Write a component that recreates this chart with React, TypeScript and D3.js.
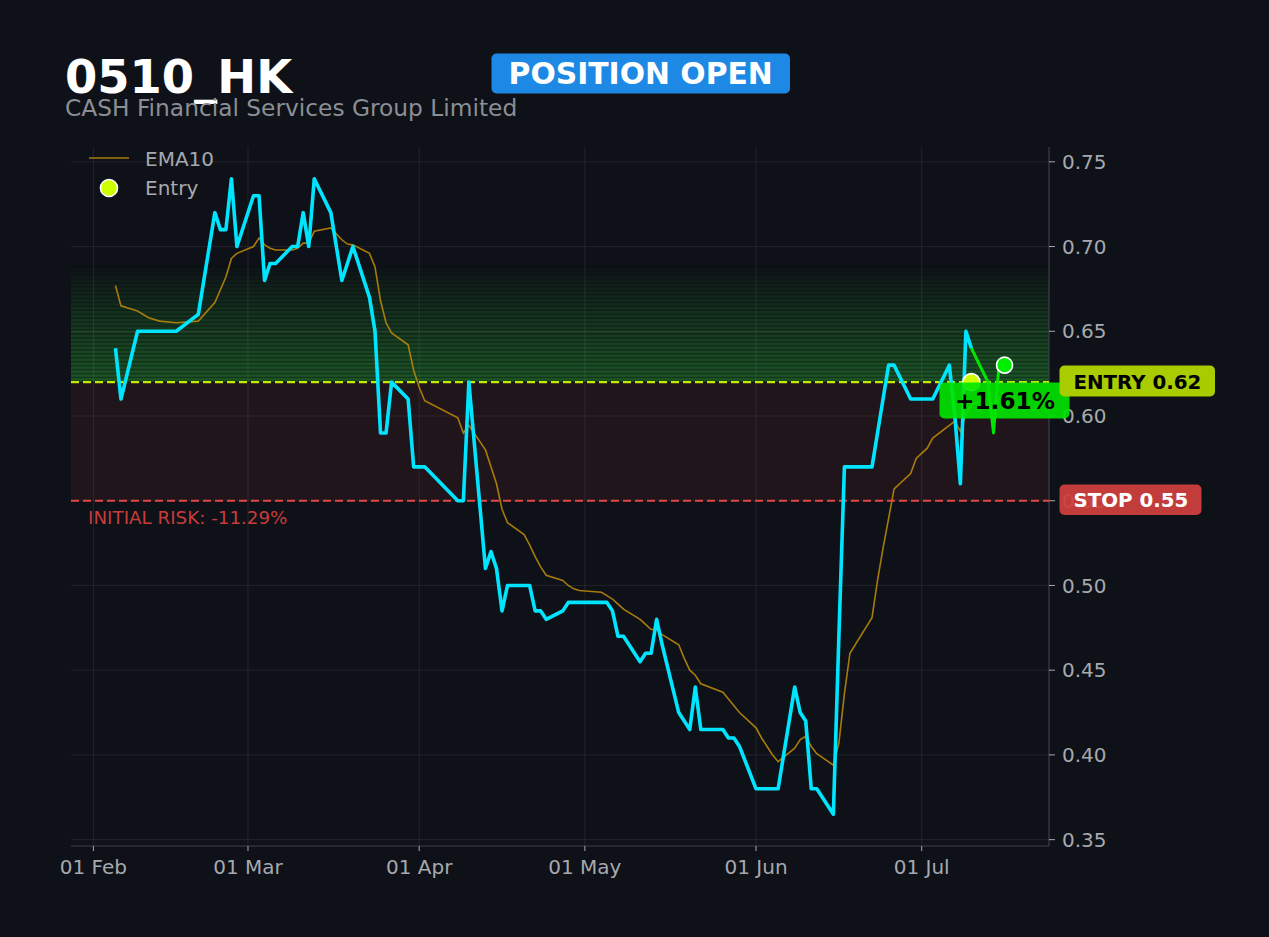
import React from "react";
import * as d3 from "d3";

// close prices (2026 trading days)
const priceDates = [
  "2026-02-05", "2026-02-06", "2026-02-09", "2026-02-10", "2026-02-11", "2026-02-12", "2026-02-13", "2026-02-16",
  "2026-02-20", "2026-02-23", "2026-02-24", "2026-02-25", "2026-02-26", "2026-02-27", "2026-03-02", "2026-03-03",
  "2026-03-04", "2026-03-05", "2026-03-06", "2026-03-09", "2026-03-10", "2026-03-11", "2026-03-12", "2026-03-13",
  "2026-03-16", "2026-03-18", "2026-03-19", "2026-03-20", "2026-03-23", "2026-03-24", "2026-03-25", "2026-03-26",
  "2026-03-27", "2026-03-30", "2026-03-31", "2026-04-01", "2026-04-02", "2026-04-08", "2026-04-09", "2026-04-10",
  "2026-04-13", "2026-04-14", "2026-04-15", "2026-04-16", "2026-04-17", "2026-04-20", "2026-04-21", "2026-04-22",
  "2026-04-23", "2026-04-24", "2026-04-27", "2026-04-28", "2026-04-29", "2026-04-30", "2026-05-04", "2026-05-05",
  "2026-05-06", "2026-05-07", "2026-05-08", "2026-05-11", "2026-05-12", "2026-05-13", "2026-05-14", "2026-05-15",
  "2026-05-18", "2026-05-19", "2026-05-20", "2026-05-21", "2026-05-22", "2026-05-26", "2026-05-27", "2026-05-28",
  "2026-05-29", "2026-06-01", "2026-06-02", "2026-06-03", "2026-06-04", "2026-06-05", "2026-06-08", "2026-06-09",
  "2026-06-10", "2026-06-11", "2026-06-12", "2026-06-15", "2026-06-16", "2026-06-17", "2026-06-18", "2026-06-22",
  "2026-06-23", "2026-06-24", "2026-06-25", "2026-06-26", "2026-06-29", "2026-06-30", "2026-07-02", "2026-07-03",
  "2026-07-06", "2026-07-07", "2026-07-08", "2026-07-09", "2026-07-10",
];
const priceValues = [
  0.64, 0.61, 0.65, 0.65, 0.65, 0.65, 0.65, 0.65,
  0.66, 0.72, 0.71, 0.71, 0.74, 0.70, 0.73, 0.73,
  0.68, 0.69, 0.69, 0.70, 0.70, 0.72, 0.70, 0.74,
  0.72, 0.68, 0.69, 0.70, 0.67, 0.65, 0.59, 0.59,
  0.62, 0.61, 0.57, 0.57, 0.57, 0.55, 0.55, 0.62,
  0.51, 0.52, 0.51, 0.485, 0.50, 0.50, 0.50, 0.485,
  0.485, 0.48, 0.485, 0.49, 0.49, 0.49, 0.49, 0.49,
  0.485, 0.47, 0.47, 0.455, 0.46, 0.46, 0.48, 0.465,
  0.425, 0.42, 0.415, 0.44, 0.415, 0.415, 0.41, 0.41,
  0.405, 0.38, 0.38, 0.38, 0.38, 0.38, 0.44, 0.425,
  0.42, 0.38, 0.38, 0.365, 0.47, 0.57, 0.57, 0.57,
  0.59, 0.61, 0.63, 0.63, 0.61, 0.61, 0.61, 0.61,
  0.63, 0.60, 0.56, 0.65, 0.64,
];

// EMA10
const emaDates = [
  "2026-02-05", "2026-02-06", "2026-02-09", "2026-02-11", "2026-02-13", "2026-02-16", "2026-02-20", "2026-02-23",
  "2026-02-25", "2026-02-26", "2026-02-27", "2026-03-02", "2026-03-03", "2026-03-04", "2026-03-05", "2026-03-06",
  "2026-03-09", "2026-03-10", "2026-03-11", "2026-03-12", "2026-03-13", "2026-03-16", "2026-03-18", "2026-03-19",
  "2026-03-20", "2026-03-23", "2026-03-24", "2026-03-25", "2026-03-26", "2026-03-27", "2026-03-30", "2026-03-31",
  "2026-04-01", "2026-04-02", "2026-04-08", "2026-04-09", "2026-04-10", "2026-04-13", "2026-04-14", "2026-04-15",
  "2026-04-16", "2026-04-17", "2026-04-20", "2026-04-21", "2026-04-22", "2026-04-23", "2026-04-24", "2026-04-27",
  "2026-04-28", "2026-04-29", "2026-04-30", "2026-05-04", "2026-05-05", "2026-05-06", "2026-05-07", "2026-05-08",
  "2026-05-11", "2026-05-12", "2026-05-13", "2026-05-14", "2026-05-15", "2026-05-18", "2026-05-19", "2026-05-20",
  "2026-05-21", "2026-05-22", "2026-05-26", "2026-05-27", "2026-05-28", "2026-05-29", "2026-06-01", "2026-06-02",
  "2026-06-03", "2026-06-04", "2026-06-05", "2026-06-08", "2026-06-09", "2026-06-10", "2026-06-11", "2026-06-12",
  "2026-06-15", "2026-06-16", "2026-06-17", "2026-06-18", "2026-06-22", "2026-06-23", "2026-06-24", "2026-06-25",
  "2026-06-26", "2026-06-29", "2026-06-30", "2026-07-02", "2026-07-03", "2026-07-06", "2026-07-07", "2026-07-08",
  "2026-07-09", "2026-07-10", "2026-07-13", "2026-07-14", "2026-07-15", "2026-07-16",
];
const emaValues = [
  0.677, 0.665, 0.662, 0.658, 0.656, 0.655, 0.656, 0.667,
  0.682, 0.693, 0.696, 0.700, 0.705, 0.701, 0.699, 0.698,
  0.698, 0.699, 0.702, 0.702, 0.709, 0.711, 0.704, 0.7015,
  0.701, 0.696, 0.688, 0.668, 0.655, 0.649, 0.642, 0.627,
  0.617, 0.609, 0.599, 0.590, 0.5945, 0.580, 0.570, 0.560,
  0.545, 0.537, 0.530, 0.524, 0.517, 0.511, 0.506, 0.503,
  0.500, 0.498, 0.497, 0.496, 0.494, 0.492, 0.489, 0.486,
  0.480, 0.477, 0.474, 0.474, 0.471, 0.465, 0.457, 0.450,
  0.447, 0.442, 0.437, 0.433, 0.429, 0.425, 0.416, 0.410,
  0.405, 0.400, 0.396, 0.404, 0.409, 0.411, 0.405, 0.4007,
  0.394, 0.407, 0.436, 0.460, 0.481, 0.503, 0.522, 0.5395,
  0.557, 0.566, 0.575, 0.581, 0.587, 0.5945, 0.597, 0.591,
  0.601, 0.607, 0.610, 0.606, 0.610, 0.613,
];

// price since entry
const positionDates = ["2026-07-10", "2026-07-13", "2026-07-14", "2026-07-15", "2026-07-16"];
const positionValues = [0.64, 0.62, 0.59, 0.63, 0.63];

const entryDate = "2026-07-10";
const entryPrice = 0.62;
const stopPrice = 0.55;
const targetPrice = 0.69;
const yTicks = [0.35, 0.4, 0.45, 0.5, 0.55, 0.6, 0.65, 0.7, 0.75];
const xTicks = ["2026-02-01", "2026-03-01", "2026-04-01", "2026-05-01", "2026-06-01", "2026-07-01"];

const W = 1269;
const H = 937;
const plot = { left: 71, right: 1049, top: 147, bottom: 846 };
const BG = "#0e1117";
const FONT = "DejaVu Sans, sans-serif";
const TICK = "#a6a9ae";

const parse = d3.utcParse("%Y-%m-%d");
type Pt = { date: Date; value: number };
const zip = (ds: string[], vs: number[]): Pt[] => ds.map((d, i) => ({ date: parse(d)!, value: vs[i] }));

const price = zip(priceDates, priceValues);
const ema = zip(emaDates, emaValues);
const position = zip(positionDates, positionValues);

export default function App() {
  const allDates = [...price, ...position].map((d) => d.date.getTime());
  const allVals = [...price, ...position].map((d) => d.value);
  const [t0, t1] = [d3.min(allDates)!, d3.max(allDates)!];
  const [v0, v1] = [d3.min(allVals)!, d3.max(allVals)!];
  const tPad = (t1 - t0) * 0.05;
  const vPad = (v1 - v0) * 0.05;

  const x = d3.scaleUtc().domain([new Date(t0 - tPad), new Date(t1 + tPad)]).range([plot.left, plot.right]);
  const y = d3.scaleLinear().domain([v0 - vPad, v1 + vPad]).range([plot.bottom, plot.top]);

  const line = d3
    .line<Pt>()
    .x((d) => x(d.date))
    .y((d) => y(d.value));

  const fmtDate = d3.utcFormat("%d %b");
  const last = position[position.length - 1];
  const pnl = (last.value / entryPrice - 1) * 100;
  const risk = (stopPrice / entryPrice - 1) * 100;

  // green profit gradient bands (striped, fading upward)
  const nBands = 30;
  const bands = d3.range(nBands).map((i) => {
    const lo = entryPrice + ((targetPrice - entryPrice) * i) / nBands;
    const hi = entryPrice + ((targetPrice - entryPrice) * (i + 1)) / nBands;
    return { lo, hi, a: 0.42 * (1 - i / nBands) };
  });

  const entryX = x(parse(entryDate)!);

  return (
    <svg
      width={W}
      height={H}
      style={{ position: "absolute", left: 0, top: 0, background: BG, fontFamily: FONT }}
    >
      <rect x={0} y={0} width={W} height={H} fill={BG} />

      {/* zones */}
      <rect
        x={plot.left}
        y={y(entryPrice)}
        width={plot.right - plot.left}
        height={y(stopPrice) - y(entryPrice)}
        fill="#e04040"
        opacity={0.09}
      />
      {bands.map((b, i) => (
        <g key={i}>
          <rect
            x={plot.left}
            y={y(b.hi)}
            width={plot.right - plot.left}
            height={y(b.lo) - y(b.hi)}
            fill="#2fb83a"
            opacity={b.a * 0.55}
          />
          <rect
            x={plot.left}
            y={y(b.hi)}
            width={plot.right - plot.left}
            height={Math.max(0, y(b.lo) - y(b.hi) - 1.4)}
            fill="#2fb83a"
            opacity={b.a * 0.56}
          />
        </g>
      ))}

      {/* grid */}
      <g stroke="#ffffff" strokeOpacity={0.08} strokeWidth={1}>
        {yTicks.map((t) => (
          <line key={t} x1={plot.left} x2={plot.right} y1={y(t)} y2={y(t)} />
        ))}
        {xTicks.map((t) => (
          <line key={t} x1={x(parse(t)!)} x2={x(parse(t)!)} y1={plot.top} y2={plot.bottom} />
        ))}
      </g>

      {/* spines */}
      <g stroke="#3d4047" strokeWidth={1.2}>
        <line x1={plot.left} x2={plot.right} y1={plot.bottom} y2={plot.bottom} />
        <line x1={plot.right} x2={plot.right} y1={plot.top} y2={plot.bottom} />
      </g>

      {/* axes */}
      <g fill={TICK} fontSize={20}>
        {xTicks.map((t) => {
          const px = x(parse(t)!);
          return (
            <g key={t}>
              <line x1={px} x2={px} y1={plot.bottom} y2={plot.bottom + 5} stroke={TICK} strokeWidth={1} />
              <text x={px} y={873.5} textAnchor="middle">
                {fmtDate(parse(t)!)}
              </text>
            </g>
          );
        })}
        {yTicks.map((t) => (
          <g key={t}>
            <line x1={plot.right} x2={plot.right + 6} y1={y(t)} y2={y(t)} stroke={TICK} strokeWidth={1} />
            <text x={1062} y={y(t)} dy="0.36em">
              {t.toFixed(2)}
            </text>
          </g>
        ))}
      </g>

      {/* EMA */}
      <path d={line(ema)!} fill="none" stroke="#b8860b" strokeOpacity={0.9} strokeWidth={1.6} />

      {/* entry / stop lines */}
      <line
        x1={plot.left}
        x2={plot.right}
        y1={y(entryPrice)}
        y2={y(entryPrice)}
        stroke="#c8e600"
        strokeWidth={2.2}
        strokeDasharray="8,4"
      />
      <line
        x1={plot.left}
        x2={plot.right}
        y1={y(stopPrice)}
        y2={y(stopPrice)}
        stroke="#e04848"
        strokeWidth={2.2}
        strokeDasharray="8,4"
      />

      {/* price */}
      <path d={line([...price, position[0]])!} fill="none" stroke="#00e5ff" strokeWidth={3.6} strokeLinejoin="round" />
      <path d={line(position)!} fill="none" stroke="#00e600" strokeWidth={3} strokeLinejoin="round" />

      {/* markers */}
      <circle cx={entryX} cy={y(entryPrice)} r={8.5} fill="#ccff00" stroke="#ffffff" strokeWidth={1.6} />
      <circle cx={x(last.date)} cy={y(last.value)} r={8} fill="#00ee00" stroke="#ffffff" strokeWidth={1.6} />

      <text x={88} y={524} fill="#c83c3c" fontSize={18.3}>
        {`INITIAL RISK: ${risk.toFixed(2)}%`}
      </text>

      {/* pnl box */}
      <rect x={939.5} y={382.5} width={130} height={36} rx={5} fill="#00e600" opacity={0.9} />
      <text x={1005} y={408.5} textAnchor="middle" fill="#000000" fontSize={23.2} fontWeight="bold">
        {`${pnl >= 0 ? "+" : ""}${pnl.toFixed(2)}%`}
      </text>

      {/* right labels */}
      <rect x={1059.5} y={365.5} width={155.5} height={31} rx={5} fill="#a8cc00" />
      <text x={1073.5} y={388.5} fill="#000000" fontSize={19.8} fontWeight="bold">
        {`ENTRY ${entryPrice.toFixed(2)}`}
      </text>
      <rect x={1059.5} y={484.5} width={142} height={30.5} rx={5} fill="#d04040" opacity={0.93} />
      <text x={1073.5} y={507} fill="#ffffff" fontSize={19.8} fontWeight="bold">
        {`STOP ${stopPrice.toFixed(2)}`}
      </text>

      {/* legend */}
      <line x1={89} x2={129} y1={158} y2={158} stroke="#b8860b" strokeOpacity={0.9} strokeWidth={1.6} />
      <text x={145} y={165.5} fill={TICK} fontSize={20}>
        EMA10
      </text>
      <circle cx={109} cy={188} r={8.5} fill="#ccff00" stroke="#ffffff" strokeWidth={1.6} />
      <text x={145} y={194.5} fill={TICK} fontSize={20}>
        Entry
      </text>

      {/* header */}
      <text x={65} y={93} fill="#ffffff" fontSize={46.4} fontWeight="bold">
        0510_HK
      </text>
      <text x={65} y={116} fill="#8b8e94" fontSize={23.3}>
        CASH Financial Services Group Limited
      </text>
      <rect x={491.5} y={53.5} width={298.5} height={40} rx={5} fill="#1e88e5" />
      <text x={640.7} y={84} textAnchor="middle" fill="#ffffff" fontSize={29.8} fontWeight="bold">
        POSITION OPEN
      </text>
    </svg>
  );
}
